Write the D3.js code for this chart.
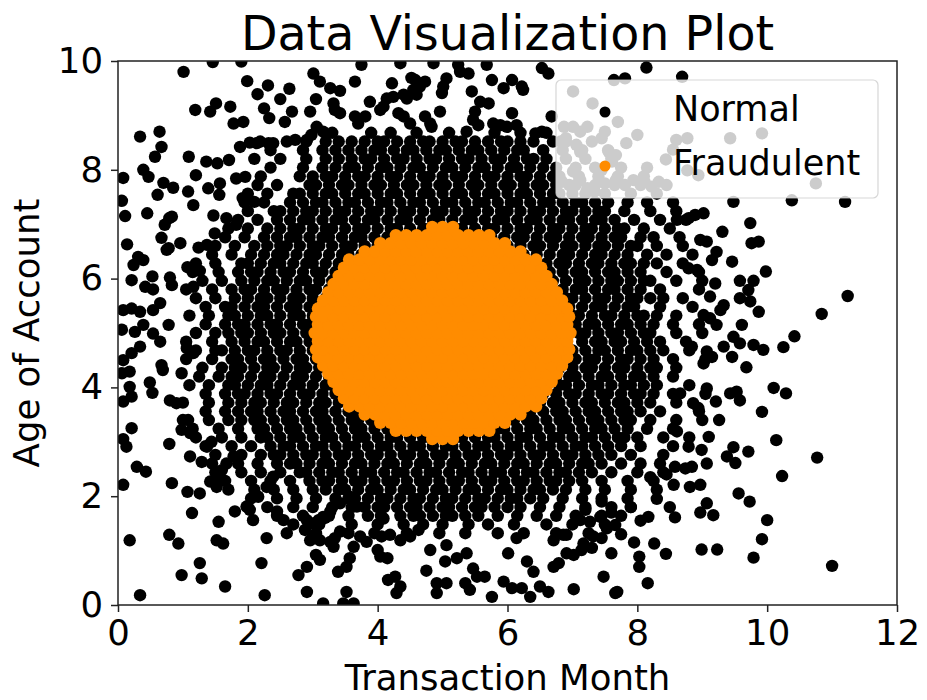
<!DOCTYPE html>
<html>
<head>
<meta charset="utf-8">
<script src="https://cdn.jsdelivr.net/npm/d3@7"></script>
<style>
  body { margin: 0; background: #fff; }
  svg { display: block; }
  text { font-family: "DejaVu Sans", sans-serif; fill: #000; }
</style>
</head>
<body>
<div id="chart"></div>
<script>
// ticks and labels
const xTicks = [0, 2, 4, 6, 8, 10, 12];
const yTicks = [0, 2, 4, 6, 8, 10];
const legendLabels = ['Normal', 'Fraudulent'];

// normal transactions, dense band read row by row: [age, [months...]]
const normalRows = [
  [8.68, [3.3,3.9,4.2,4.6,5.1,5.8,6.2,6.6]],
  [8.52, [2.9,3.2,3.4,3.6,3.8,4.0,4.1,4.3,4.5,4.7,4.8,5.0,5.2,5.3,5.5,5.7,5.9,6.0,6.2,6.4,6.7,6.9,7.3]],
  [8.36, [2.35,2.85,3.15,3.35,3.55,3.75,3.95,4.05,4.25,4.45,4.55,4.75,4.95,5.05,5.25,5.45,5.55,5.75,5.95,6.15,6.25,6.55,6.85,7.15,7.55]],
  [8.20, [2.1,2.5,2.9,3.2,3.4,3.6,3.8,3.9,4.1,4.3,4.4,4.6,4.8,4.9,5.1,5.3,5.4,5.6,5.8,5.9,6.1,6.3,6.4,6.6,6.9,7.2,7.6]],
  [8.04, [2.35,2.85,3.15,3.35,3.55,3.65,3.85,4.05,4.15,4.35,4.55,4.65,4.85,5.05,5.15,5.35,5.55,5.65,5.85,6.05,6.15,6.35,6.55,6.75,7.05,7.35,7.75,8.15]],
  [7.88, [2.2,2.8,3.0,3.2,3.3,3.5,3.7,3.8,4.0,4.2,4.3,4.5,4.7,4.8,5.0,5.2,5.3,5.5,5.7,5.8,6.0,6.2,6.3,6.5,6.7,6.8,7.1,7.4,7.7,8.1]],
  [7.72, [2.15,2.45,2.95,3.05,3.25,3.45,3.55,3.75,3.95,4.05,4.25,4.45,4.55,4.75,4.95,5.05,5.25,5.45,5.55,5.75,5.95,6.05,6.25,6.45,6.55,6.75,6.95,7.05,7.35,7.65,8.05,8.45]],
  [7.56, [2.0,2.3,2.7,2.8,3.0,3.2,3.3,3.5,3.7,3.8,4.0,4.2,4.3,4.5,4.7,4.8,5.0,5.2,5.3,5.5,5.7,5.8,6.0,6.2,6.3,6.5,6.7,6.8,7.0,7.2,7.5,7.9,8.3]],
  [7.40, [1.95,2.25,2.65,2.85,3.05,3.15,3.35,3.55,3.65,3.85,4.05,4.15,4.35,4.55,4.65,4.85,5.05,5.15,5.35,5.55,5.65,5.85,6.05,6.15,6.35,6.55,6.65,6.85,7.05,7.15,7.35,7.55,7.85,8.15,8.55]],
  [7.24, [2.0,2.4,2.5,2.7,2.9,3.0,3.2,3.4,3.5,3.7,3.9,4.0,4.2,4.4,4.5,4.7,4.9,5.0,5.2,5.4,5.5,5.7,5.9,6.0,6.2,6.4,6.5,6.7,6.9,7.0,7.2,7.4,7.5,7.8,8.2,8.6]],
  [7.08, [1.85,2.15,2.45,2.65,2.85,2.95,3.15,3.35,3.45,3.65,3.85,3.95,4.15,4.35,4.45,4.65,4.85,4.95,5.15,5.35,5.45,5.65,5.85,5.95,6.15,6.35,6.45,6.65,6.85,6.95,7.15,7.35,7.45,7.65,7.95,8.35,8.75]],
  [6.92, [1.7,2.0,2.3,2.5,2.7,2.8,3.0,3.2,3.3,3.5,3.7,3.8,4.0,4.2,4.3,4.5,4.7,4.8,5.0,5.2,5.3,5.5,5.7,5.8,6.0,6.2,6.3,6.5,6.7,6.8,7.0,7.2,7.3,7.5,7.7,7.8,8.1,8.5]],
  [6.76, [1.65,1.95,2.25,2.45,2.65,2.75,2.95,3.15,3.25,3.45,3.65,3.75,3.95,4.15,4.25,4.45,5.55,5.75,5.95,6.15,6.25,6.45,6.65,6.75,6.95,7.15,7.25,7.45,7.65,7.75,8.05,8.25,8.65]],
  [6.60, [1.5,1.8,2.1,2.3,2.5,2.6,2.8,3.0,3.1,3.3,3.5,3.6,3.8,4.0,4.1,5.9,6.0,6.2,6.4,6.5,6.7,6.9,7.0,7.2,7.4,7.5,7.7,7.9,8.0,8.3,8.7]],
  [6.44, [1.45,1.75,2.05,2.25,2.45,2.55,2.75,2.95,3.05,3.25,3.45,3.55,3.75,3.95,6.05,6.25,6.45,6.65,6.85,6.95,7.15,7.35,7.45,7.65,7.85,8.15,8.45,8.85]],
  [6.28, [1.2,1.5,1.9,2.0,2.2,2.4,2.5,2.7,2.9,3.0,3.2,3.4,3.5,3.7,6.3,6.4,6.6,6.8,6.9,7.1,7.3,7.4,7.6,7.8,7.9,8.1,8.3,8.7]],
  [6.12, [1.15,1.55,1.85,2.05,2.15,2.35,2.55,2.65,2.85,3.05,3.15,3.35,3.55,6.45,6.65,6.85,7.05,7.15,7.35,7.55,7.65,7.85,8.05,8.45,8.95]],
  [5.96, [1.3,1.6,1.9,2.1,2.3,2.4,2.6,2.8,2.9,3.1,3.3,3.4,6.6,6.7,6.9,7.1,7.2,7.4,7.6,7.7,7.9,8.1,8.2,8.6,9.0]],
  [5.80, [1.05,1.45,1.75,1.95,2.05,2.25,2.45,2.55,2.75,2.95,3.05,3.25,6.65,6.85,7.05,7.15,7.35,7.55,7.65,7.85,8.05,8.35,8.95]],
  [5.64, [1.2,1.5,1.8,2.0,2.2,2.3,2.5,2.7,2.8,3.0,3.2,3.3,6.7,6.9,7.0,7.2,7.4,7.5,7.7,7.9,8.0,8.2,8.4,8.7]],
  [5.48, [1.35,1.65,1.75,1.95,2.15,2.25,2.45,2.65,2.75,2.95,3.15,6.85,6.95,7.15,7.35,7.45,7.65,7.85,7.95,8.35,8.85]],
  [5.32, [1.1,1.4,1.7,1.8,2.0,2.2,2.3,2.5,2.7,2.8,3.0,3.2,6.8,7.0,7.1,7.3,7.5,7.6,7.8,8.0,8.1,8.3,8.6]],
  [5.16, [1.35,1.65,1.85,1.95,2.15,2.35,2.45,2.65,2.85,2.95,3.15,6.85,7.05,7.25,7.35,7.55,7.75,7.85,8.05,8.25,8.55,8.95]],
  [5.00, [1.2,1.5,1.7,1.9,2.0,2.2,2.4,2.5,2.7,2.9,3.0,3.1,6.9,7.1,7.2,7.4,7.6,7.7,7.9,8.1,8.2,8.6,9.0]],
  [4.84, [1.05,1.45,1.75,1.95,2.15,2.25,2.45,2.65,2.75,2.95,3.15,6.85,7.15,7.35,7.45,7.65,7.75,7.95,8.15,8.35,8.75]],
  [4.68, [1.2,1.5,1.6,1.8,2.0,2.1,2.3,2.5,2.6,2.8,3.0,3.1,6.9,7.0,7.2,7.4,7.5,7.7,7.9,8.0,8.2,8.4,8.8]],
  [4.52, [1.05,1.45,1.75,1.85,2.05,2.25,2.35,2.55,2.75,2.85,3.05,3.25,6.85,7.05,7.25,7.35,7.55,7.75,7.85,8.05,8.25,8.55,9.05]],
  [4.36, [1.3,1.6,1.8,1.9,2.1,2.3,2.4,2.6,2.8,2.9,3.1,3.3,6.7,6.8,7.0,7.2,7.3,7.5,7.7,7.8,8.0,8.2,8.3,8.6]],
  [4.20, [1.25,1.55,1.75,1.85,2.05,2.25,2.35,2.55,2.75,2.85,3.05,3.25,3.35,6.75,6.95,7.05,7.25,7.45,7.55,7.75,7.95,8.05,8.25,8.55]],
  [4.04, [1.1,1.4,1.7,1.8,2.0,2.2,2.3,2.5,2.7,2.8,3.0,3.2,3.3,3.5,6.6,6.8,6.9,7.1,7.3,7.4,7.6,7.8,7.9,8.1,8.3,8.8]],
  [3.88, [1.35,1.65,1.85,1.95,2.15,2.35,2.45,2.65,2.85,2.95,3.15,3.35,3.45,3.65,6.55,6.75,6.95,7.05,7.25,7.45,7.55,7.75,7.95,8.05,8.25,8.55,9.05]],
  [3.72, [1.0,1.4,1.7,1.9,2.1,2.2,2.4,2.6,2.7,2.9,3.1,3.2,3.4,3.6,3.7,6.3,6.5,6.7,6.8,7.0,7.2,7.3,7.5,7.7,7.8,8.0,8.2,8.6]],
  [3.56, [1.35,1.65,1.85,2.05,2.15,2.35,2.55,2.65,2.85,3.05,3.15,3.35,3.55,3.65,3.85,6.25,6.35,6.55,6.75,6.85,7.05,7.25,7.35,7.55,7.75,7.85,8.05,8.35,8.95]],
  [3.40, [1.0,1.4,1.7,1.9,2.1,2.2,2.4,2.6,2.7,2.9,3.1,3.2,3.4,3.6,3.7,3.9,4.1,5.9,6.1,6.3,6.4,6.6,6.8,6.9,7.1,7.3,7.4,7.6,7.8,7.9,8.2,8.6,9.0]],
  [3.24, [1.15,1.55,1.85,2.15,2.25,2.45,2.65,2.75,2.95,3.15,3.25,3.45,3.65,3.75,3.95,4.15,4.25,4.45,5.65,5.85,5.95,6.15,6.35,6.45,6.65,6.85,6.95,7.15,7.35,7.45,7.65,7.85,8.15,8.55]],
  [3.08, [1.2,1.6,1.9,2.2,2.3,2.5,2.7,2.8,3.0,3.2,3.3,3.5,3.7,3.8,4.0,4.2,4.3,4.5,4.7,4.8,5.0,5.2,5.3,5.5,5.7,5.8,6.0,6.2,6.3,6.5,6.7,6.8,7.0,7.2,7.3,7.5,7.7,7.8,8.0,8.4,8.8]],
  [2.92, [1.35,1.75,2.05,2.35,2.55,2.65,2.85,3.05,3.15,3.35,3.55,3.65,3.85,4.05,4.15,4.35,4.55,4.65,4.85,5.05,5.15,5.35,5.55,5.65,5.85,6.05,6.15,6.35,6.55,6.65,6.85,7.05,7.15,7.35,7.55,7.75,8.05,8.55]],
  [2.76, [1.5,1.9,2.2,2.4,2.5,2.7,2.9,3.0,3.2,3.4,3.5,3.7,3.9,4.0,4.2,4.4,4.5,4.7,4.9,5.0,5.2,5.4,5.5,5.7,5.9,6.0,6.2,6.4,6.5,6.7,6.9,7.0,7.2,7.4,7.6,7.9,8.4]],
  [2.60, [1.45,1.85,2.15,2.45,2.65,2.75,2.95,3.15,3.25,3.45,3.65,3.75,3.95,4.15,4.25,4.45,4.65,4.75,4.95,5.15,5.25,5.45,5.65,5.75,5.95,6.15,6.25,6.45,6.65,6.75,6.95,7.15,7.25,7.45,7.75,8.05,8.35]],
  [2.44, [1.5,1.9,2.2,2.5,2.8,2.9,3.1,3.3,3.4,3.6,3.8,3.9,4.1,4.3,4.4,4.6,4.8,4.9,5.1,5.3,5.4,5.6,5.8,5.9,6.1,6.3,6.4,6.6,6.8,6.9,7.1,7.3,7.6,8.0,8.4]],
  [2.28, [1.65,2.05,2.35,2.65,2.95,3.15,3.25,3.45,3.65,3.75,3.95,4.15,4.25,4.45,4.65,4.75,4.95,5.15,5.25,5.45,5.65,5.75,5.95,6.15,6.25,6.45,6.65,6.75,6.95,7.15,7.45,7.85,8.25]],
  [2.12, [1.7,2.1,2.4,2.7,3.0,3.2,3.4,3.5,3.7,3.9,4.0,4.2,4.4,4.5,4.7,4.9,5.0,5.2,5.4,5.5,5.7,5.9,6.0,6.2,6.4,6.5,6.7,6.9,7.2,7.5,7.9,8.3]],
  [1.96, [2.05,2.45,2.75,3.05,3.35,3.55,3.65,3.85,4.05,4.15,4.35,4.55,4.65,4.85,5.05,5.15,5.35,5.55,5.65,5.85,6.05,6.15,6.35,6.55,6.85,7.15,7.45,7.85]],
  [1.80, [2.0,2.3,2.7,3.0,3.3,3.6,3.8,4.0,4.1,4.3,4.5,4.6,4.8,5.0,5.1,5.3,5.5,5.6,5.8,6.0,6.2,6.5,6.8,7.2,7.6,7.9]],
  [1.64, [2.45,2.85,3.25,3.55,3.85,4.05,4.35,4.55,4.65,4.85,5.05,5.15,5.35,5.55,5.85,6.15,6.45,6.75,7.05,7.45,7.75]],
  [1.48, [2.7,3.1,3.6,4.0,4.4,4.7,5.0,5.4,5.7,6.1,6.6,7.0,7.5]],
  [1.32, [3.05,3.55,3.95,4.45,4.95,5.35,5.85,6.25,6.75,7.25]]
];

// normal transactions, scattered outer points: [month, age]
const normalTopLeft = [
  [1.01,9.80],[1.46,9.98],[1.90,9.99],[1.99,9.63],[2.31,9.55],[2.15,9.39],[2.64,9.49],[2.50,9.30],[3.01,9.77],[3.11,9.62],
  [3.27,9.50],[3.42,9.45],[3.65,9.62],[3.05,9.30],[2.96,9.07],[2.68,9.07],[2.57,8.88],[2.33,8.95],[2.25,9.13],[1.19,9.10],
  [1.42,9.07],[1.51,9.22],[1.73,9.16],[1.78,8.85],[1.93,8.88],[0.34,8.61],[0.64,8.70],[0.67,8.42],[0.57,8.24],[0.39,8.00],
  [0.47,7.87],[0.08,7.85],[0.06,7.43],[0.11,7.15],[0.45,7.20],[0.70,7.76],[0.85,7.67],[0.61,7.54],[1.08,7.60],[1.16,7.35],
  [1.09,8.24],[1.36,8.15],[1.53,8.12],[1.71,8.18],[1.20,7.90],[1.39,7.66],[1.57,7.75],[1.56,7.54],[1.82,7.84],[1.96,7.87],
  [1.88,8.42],[2.03,8.50],[2.14,8.49],[2.32,8.49],[1.92,7.48],[2.10,7.41],[0.79,7.11],[0.72,6.99],[0.67,6.75],[0.78,6.56],
  [0.96,6.65],[1.47,7.16],[1.49,6.83],[1.67,7.11],[1.82,6.99],[0.14,6.63],[0.31,6.40],[0.24,6.25],[0.39,6.34],[0.21,5.97],
  [0.42,5.85],[0.53,6.04],[0.80,6.02],[0.83,5.88],[1.07,6.21],[1.24,6.57],[1.37,6.62],[1.26,6.14],[1.16,5.85],[0.08,5.42],
  [0.21,5.45],[0.34,5.39],[0.54,5.42],[0.65,5.55],[0.06,5.06],[0.78,5.15],[0.83,7.14],[0.75,6.53],[0.54,5.80]
];
const normalLeft = [
  [0.26,5.02],[0.39,5.15],[0.54,4.99],[0.65,4.84],[0.34,4.75],[0.08,4.50],[0.21,4.63],[0.06,4.26],[0.18,4.29],[0.08,3.74],
  [0.21,3.83],[0.18,4.01],[0.49,4.09],[0.53,3.90],[0.67,4.41],[0.69,4.32],[0.80,3.76],[0.90,3.71],[0.21,3.25],[0.08,3.05],
  [0.13,2.91],[0.79,2.96],[0.98,3.22],[1.11,3.16],[0.43,2.45],[0.98,4.26],[1.06,4.72],[1.16,4.63],[1.08,3.40],[1.11,2.73],
  [1.29,2.63],[1.37,2.91],[1.44,3.00],[1.55,2.30],[1.60,2.48],[1.67,2.60],[1.78,2.73],[1.98,1.81],[2.16,1.99],[2.29,2.17],
  [2.39,2.36],[0.34,0.18],[0.18,1.19],[0.08,2.21],[0.29,2.54],[0.83,2.24],[1.07,2.08],[1.26,2.05],[1.42,2.27],[1.52,2.17],
  [1.14,1.69],[0.79,1.29],[0.93,1.13],[0.98,0.55],[1.26,0.77],[1.29,0.49],[1.65,0.34],[1.52,1.19],[1.62,1.13],[1.55,1.53],
  [1.80,1.72],[2.03,1.75],[2.08,1.56],[2.21,0.77],[2.29,1.23],[2.26,0.18],[2.60,1.32],[2.45,1.72],[2.55,1.56],[2.78,0.55]
];
const normalBottom = [
  [2.91,0.24],[3.16,0.03],[3.47,0.03],[3.63,0.03],[3.39,0.61],[3.52,0.70],[3.57,0.86],[2.91,0.70],[3.05,0.92],[2.96,1.19],
  [3.34,1.23],[3.27,1.16],[3.42,1.35],[3.52,0.24],[4.00,1.01],[4.15,0.86],[4.16,0.46],[4.27,0.52],[4.35,0.34],[4.29,0.22],
  [4.06,1.26],[4.19,1.29],[4.35,1.19],[4.50,1.26],[4.63,1.38],[4.75,0.63],[4.91,0.22],[5.06,0.40],[4.91,0.40],[5.04,0.80],
  [4.81,1.01],[5.06,1.10],[5.22,0.86],[5.37,0.95],[5.35,0.40],[5.42,0.28],[5.53,0.52],[5.47,0.67],[5.65,0.52],[5.76,0.15],
  [5.94,0.43],[6.07,0.31],[6.22,0.31],[6.35,0.15],[6.30,0.80],[6.40,0.61],[6.01,0.95],[6.14,1.23],[6.50,0.34],[6.63,0.24],
  [6.71,0.70],[6.79,0.77],[6.91,0.95],[7.17,1.13],[6.71,1.19],[6.86,1.29],[7.12,1.56],[7.27,1.53],[7.43,1.62],[7.53,1.41],
  [7.66,1.47],[7.32,1.26],[7.45,1.23],[7.66,0.22],[2.91,1.56],[3.09,1.56],[3.19,1.60],[3.01,1.26],[3.11,1.19],[3.32,1.07],
  [3.63,1.07],[3.73,1.26],[3.83,1.16],[4.04,0.89],[4.09,1.59],[3.11,0.83],[2.88,1.38],[3.01,1.50],[3.16,1.62],[3.27,1.72],
  [3.42,1.87],[3.57,1.99],[3.68,1.81],[7.20,1.75],[7.45,1.90],[7.60,1.70],[7.90,1.80],[8.05,1.55],[7.75,1.30],[7.95,1.15],
  [7.30,1.05],[7.60,0.95],[8.30,1.95],[8.50,1.80],[8.20,2.35],[8.45,2.40]
];
const normalRight = [
  [9.48,7.41],[10.38,7.44],[11.20,7.41],[9.74,7.02],[9.31,6.86],[9.76,6.65],[9.87,6.68],[9.46,6.31],[9.22,6.49],[9.98,6.13],
  [9.58,5.96],[9.79,5.96],[9.71,5.79],[9.58,5.64],[9.74,5.58],[9.87,5.39],[11.24,5.68],[10.84,5.35],[10.42,4.94],[10.25,4.74],
  [9.79,4.78],[9.94,4.69],[9.68,4.37],[10.10,3.99],[10.29,3.89],[9.92,3.55],[9.26,3.40],[9.53,3.92],[9.43,3.89],[9.58,3.76],
  [9.21,3.74],[9.07,3.98],[10.14,3.03],[10.77,2.71],[10.23,2.37],[9.48,2.90],[9.38,2.73],[9.51,2.61],[9.71,2.82],[9.10,3.09],
  [8.99,2.85],[8.79,2.91],[8.58,2.54],[8.74,2.51],[8.84,2.54],[8.56,2.21],[8.81,2.17],[8.97,2.21],[9.07,2.60],[9.56,2.05],
  [9.73,1.90],[9.07,1.87],[8.97,1.70],[9.17,1.65],[8.58,1.61],[10.00,1.56],[9.92,1.21],[9.79,0.87],[8.99,1.02],[9.23,1.02],
  [11.00,0.72],[8.44,0.94],[8.26,1.13],[8.17,1.62],[8.03,0.89],[8.03,0.70],[8.16,0.40],[7.48,0.52],[7.69,0.24],[7.02,0.29],
  [6.91,1.29],[7.02,0.92],[7.14,1.01],[8.61,7.08],[8.79,7.11],[8.89,7.17],[9.02,7.20],[9.07,6.68],[8.97,6.71],[9.15,6.34],
  [8.79,6.19],[8.92,6.16],[9.20,5.91],[9.12,5.67],[9.33,5.51],[9.28,5.42],[9.02,5.33],[9.12,5.27],[9.22,5.15],[8.84,4.75],
  [9.07,4.66],[9.15,4.56],[9.02,4.44],[9.33,4.75],[9.46,4.56],[9.58,4.81],[9.48,4.93],[9.61,5.15],[8.86,3.71],[8.94,3.62],
  [8.66,3.89],[8.61,3.19]
];
const normalTop = [
  [3.32,9.22],[3.34,9.10],[3.42,9.04],[3.75,9.93],[3.88,9.25],[3.65,8.98],[3.81,8.98],[3.70,8.85],[3.06,8.79],[3.16,8.70],
  [4.14,9.31],[4.24,9.34],[4.40,9.38],[4.45,9.31],[4.22,9.59],[4.35,9.96],[4.09,9.16],[4.04,9.10],[4.32,9.04],[4.40,8.98],
  [4.50,8.85],[4.52,9.69],[4.58,9.65],[4.73,9.62],[4.65,9.53],[4.55,9.47],[4.60,9.38],[4.73,8.98],[4.81,8.85],[4.83,8.79],
  [4.96,9.07],[4.99,9.41],[5.01,9.53],[5.06,9.68],[5.24,9.93],[5.27,9.80],[5.40,9.77],[5.68,9.93],[5.45,9.44],[5.58,9.25],
  [5.71,9.22],[5.50,9.07],[5.47,8.92],[5.55,8.82],[5.37,8.70],[5.76,9.65],[5.94,9.50],[6.07,9.65],[6.22,9.53],[6.24,9.47],
  [6.07,9.04],[5.78,8.85],[5.89,8.82],[5.99,8.79],[6.14,8.82],[6.53,9.87],[6.63,9.77],[6.43,8.67],[6.53,8.70],[6.68,8.98],
  [4.86,9.96],[2.19,8.52],[2.39,8.49],[2.60,8.52],[2.73,8.55],[2.91,8.55],[2.98,8.64],
  [8.14,9.88],[8.69,9.71],[7.64,9.65],[7.81,9.68],[7.01,9.44],[7.31,9.22],[7.70,8.88],[7.50,8.70],[7.45,8.58],[8.00,8.64],
  [7.83,8.49],[6.87,8.79],[7.01,8.79],[7.12,8.70],[7.23,8.79],[6.82,8.52],[6.90,8.58],[7.06,8.46],[7.12,8.33],[7.56,8.33],
  [7.67,8.27],[7.61,8.15],[7.45,8.00],[6.84,7.78],[7.01,7.97],[7.12,7.81],[7.23,7.66],[7.34,7.60],[7.50,7.75],[7.67,7.81],
  [7.81,7.72],[7.94,7.81],[8.11,7.78],[8.22,7.69],[8.33,7.78],[8.44,8.19],[8.55,8.37],[8.60,8.55],[8.77,8.58],[8.77,7.99],
  [8.94,7.90],[9.43,8.58],[9.92,8.67],[10.75,7.75]
];

// fraudulent transactions, packed disc read row by row: [age, [months...]]
const fraudRows = [
  [3.05, [4.84,5.00,5.16]],
  [3.20, [4.28,4.44,4.60,4.76,4.92,5.08,5.24,5.40,5.56,5.72]],
  [3.35, [4.04,4.20,4.36,4.52,4.68,4.84,5.00,5.16,5.32,5.48,5.64,5.80,5.96]],
  [3.50, [3.80,3.96,4.12,4.28,4.44,4.60,4.76,4.92,5.08,5.24,5.40,5.56,5.72,5.88,6.04,6.20]],
  [3.65, [3.56,3.72,3.88,4.04,4.20,4.36,4.52,4.68,4.84,5.00,5.16,5.32,5.48,5.64,5.80,5.96,6.12,6.28,6.44]],
  [3.80, [3.48,3.64,3.80,3.96,4.12,4.28,4.44,4.60,4.76,4.92,5.08,5.24,5.40,5.56,5.72,5.88,6.04,6.20,6.36,6.52]],
  [3.95, [3.40,3.56,3.72,3.88,4.04,4.20,4.36,4.52,4.68,4.84,5.00,5.16,5.32,5.48,5.64,5.80,5.96,6.12,6.28,6.44,6.60]],
  [4.10, [3.32,3.48,3.64,3.80,3.96,4.12,4.28,4.44,4.60,4.76,4.92,5.08,5.24,5.40,5.56,5.72,5.88,6.04,6.20,6.36,6.52,6.68]],
  [4.25, [3.24,3.40,3.56,3.72,3.88,4.04,4.20,4.36,4.52,4.68,4.84,5.00,5.16,5.32,5.48,5.64,5.80,5.96,6.12,6.28,6.44,6.60,6.76]],
  [4.40, [3.16,3.32,3.48,3.64,3.80,3.96,4.12,4.28,4.44,4.60,4.76,4.92,5.08,5.24,5.40,5.56,5.72,5.88,6.04,6.20,6.36,6.52,6.68,6.84]],
  [4.55, [3.08,3.24,3.40,3.56,3.72,3.88,4.04,4.20,4.36,4.52,4.68,4.84,5.00,5.16,5.32,5.48,5.64,5.80,5.96,6.12,6.28,6.44,6.60,6.76,6.92]],
  [4.70, [3.05,3.16,3.32,3.48,3.64,3.80,3.96,4.12,4.28,4.44,4.60,4.76,4.92,5.08,5.24,5.40,5.56,5.72,5.88,6.04,6.20,6.36,6.52,6.68,6.84,6.95]],
  [4.85, [3.08,3.24,3.40,3.56,3.72,3.88,4.04,4.20,4.36,4.52,4.68,4.84,5.00,5.16,5.32,5.48,5.64,5.80,5.96,6.12,6.28,6.44,6.60,6.76,6.92]],
  [5.00, [3.03,3.16,3.32,3.48,3.64,3.80,3.96,4.12,4.28,4.44,4.60,4.76,4.92,5.08,5.24,5.40,5.56,5.72,5.88,6.04,6.20,6.36,6.52,6.68,6.84,6.97]],
  [5.15, [3.08,3.24,3.40,3.56,3.72,3.88,4.04,4.20,4.36,4.52,4.68,4.84,5.00,5.16,5.32,5.48,5.64,5.80,5.96,6.12,6.28,6.44,6.60,6.76,6.92]],
  [5.30, [3.05,3.16,3.32,3.48,3.64,3.80,3.96,4.12,4.28,4.44,4.60,4.76,4.92,5.08,5.24,5.40,5.56,5.72,5.88,6.04,6.20,6.36,6.52,6.68,6.84,6.95]],
  [5.45, [3.08,3.24,3.40,3.56,3.72,3.88,4.04,4.20,4.36,4.52,4.68,4.84,5.00,5.16,5.32,5.48,5.64,5.80,5.96,6.12,6.28,6.44,6.60,6.76,6.92]],
  [5.60, [3.16,3.32,3.48,3.64,3.80,3.96,4.12,4.28,4.44,4.60,4.76,4.92,5.08,5.24,5.40,5.56,5.72,5.88,6.04,6.20,6.36,6.52,6.68,6.84]],
  [5.75, [3.24,3.40,3.56,3.72,3.88,4.04,4.20,4.36,4.52,4.68,4.84,5.00,5.16,5.32,5.48,5.64,5.80,5.96,6.12,6.28,6.44,6.60,6.76]],
  [5.90, [3.32,3.48,3.64,3.80,3.96,4.12,4.28,4.44,4.60,4.76,4.92,5.08,5.24,5.40,5.56,5.72,5.88,6.04,6.20,6.36,6.52,6.68]],
  [6.05, [3.40,3.56,3.72,3.88,4.04,4.20,4.36,4.52,4.68,4.84,5.00,5.16,5.32,5.48,5.64,5.80,5.96,6.12,6.28,6.44,6.60]],
  [6.20, [3.48,3.64,3.80,3.96,4.12,4.28,4.44,4.60,4.76,4.92,5.08,5.24,5.40,5.56,5.72,5.88,6.04,6.20,6.36,6.52]],
  [6.35, [3.56,3.72,3.88,4.04,4.20,4.36,4.52,4.68,4.84,5.00,5.16,5.32,5.48,5.64,5.80,5.96,6.12,6.28,6.44]],
  [6.50, [3.80,3.96,4.12,4.28,4.44,4.60,4.76,4.92,5.08,5.24,5.40,5.56,5.72,5.88,6.04,6.20]],
  [6.65, [4.04,4.20,4.36,4.52,4.68,4.84,5.00,5.16,5.32,5.48,5.64,5.80,5.96]],
  [6.80, [4.28,4.44,4.60,4.76,4.92,5.08,5.24,5.40,5.56,5.72]],
  [6.95, [4.84,5.00,5.16]]
];

const width = 927, height = 700;
const plot = { left: 118, right: 897, top: 61, bottom: 605 };
const dotRadius = 6.2;

const x = d3.scaleLinear().domain([0, 12]).range([plot.left, plot.right]);
const y = d3.scaleLinear().domain([0, 10]).range([plot.bottom, plot.top]);

const svg = d3.select('#chart').append('svg')
  .attr('width', width)
  .attr('height', height);

svg.append('defs').append('clipPath').attr('id', 'plot-clip')
  .append('rect')
  .attr('x', plot.left).attr('y', plot.top)
  .attr('width', plot.right - plot.left).attr('height', plot.bottom - plot.top);

// flatten the row tables into points
const normal = [];
normalRows.forEach(([age, months]) => months.forEach(m => normal.push([m, age])));
[normalTopLeft, normalLeft, normalBottom, normalRight, normalTop].forEach(a => a.forEach(p => normal.push(p)));
const fraud = [];
fraudRows.forEach(([age, months]) => months.forEach(m => fraud.push([m, age])));

const dots = svg.append('g').attr('clip-path', 'url(#plot-clip)');

dots.selectAll('circle.normal')
  .data(normal)
  .join('circle')
  .attr('class', 'normal')
  .attr('cx', d => x(d[0]))
  .attr('cy', d => y(d[1]))
  .attr('r', dotRadius)
  .attr('fill', '#000');

dots.selectAll('circle.fraud')
  .data(fraud)
  .join('circle')
  .attr('class', 'fraud')
  .attr('cx', d => x(d[0]))
  .attr('cy', d => y(d[1]))
  .attr('r', dotRadius)
  .attr('fill', '#ff8c00');

// axes
const xAxis = svg.append('g')
  .attr('transform', `translate(0, ${plot.bottom})`)
  .call(d3.axisBottom(x).tickValues(xTicks).tickSize(7).tickSizeOuter(0).tickPadding(8).tickFormat(d3.format('d')));
const yAxis = svg.append('g')
  .attr('transform', `translate(${plot.left}, 0)`)
  .call(d3.axisLeft(y).tickValues(yTicks).tickSize(7).tickSizeOuter(0).tickPadding(8).tickFormat(d3.format('d')));

[xAxis, yAxis].forEach(a => {
  a.select('.domain').remove();
  a.selectAll('.tick line').attr('stroke', '#222').attr('stroke-width', 1.5);
  a.selectAll('.tick text')
    .attr('font-size', 35.5)
    .attr('font-family', '"DejaVu Sans", sans-serif')
    .attr('fill', '#000');
});

// frame
svg.append('rect')
  .attr('x', plot.left).attr('y', plot.top)
  .attr('width', plot.right - plot.left).attr('height', plot.bottom - plot.top)
  .attr('fill', 'none')
  .attr('stroke', '#222')
  .attr('stroke-width', 1.5);

// title and axis labels
svg.append('text')
  .attr('x', (plot.left + plot.right) / 2)
  .attr('y', 50)
  .attr('text-anchor', 'middle')
  .attr('font-size', 47.5)
  .text('Data Visualization Plot');

svg.append('text')
  .attr('x', (plot.left + plot.right) / 2)
  .attr('y', 690)
  .attr('text-anchor', 'middle')
  .attr('font-size', 35.5)
  .text('Transaction Month');

svg.append('text')
  .attr('transform', `translate(39, ${(plot.top + plot.bottom) / 2}) rotate(-90)`)
  .attr('text-anchor', 'middle')
  .attr('font-size', 35.5)
  .text('Age of Account');

// legend
const legend = svg.append('g');
legend.append('rect')
  .attr('x', 556).attr('y', 80)
  .attr('width', 322).attr('height', 118)
  .attr('rx', 5)
  .attr('fill', '#fff').attr('fill-opacity', 0.8)
  .attr('stroke', '#ccc').attr('stroke-opacity', 0.8)
  .attr('stroke-width', 1.2);

const legendColors = ['#000', '#ff8c00'];
legendLabels.forEach((label, i) => {
  legend.append('circle')
    .attr('cx', 605).attr('cy', 112 + i * 54)
    .attr('r', 5.5)
    .attr('fill', legendColors[i]);
  legend.append('text')
    .attr('x', 673).attr('y', 121 + i * 54)
    .attr('font-size', 35)
    .text(label);
});
</script>
</body>
</html>
